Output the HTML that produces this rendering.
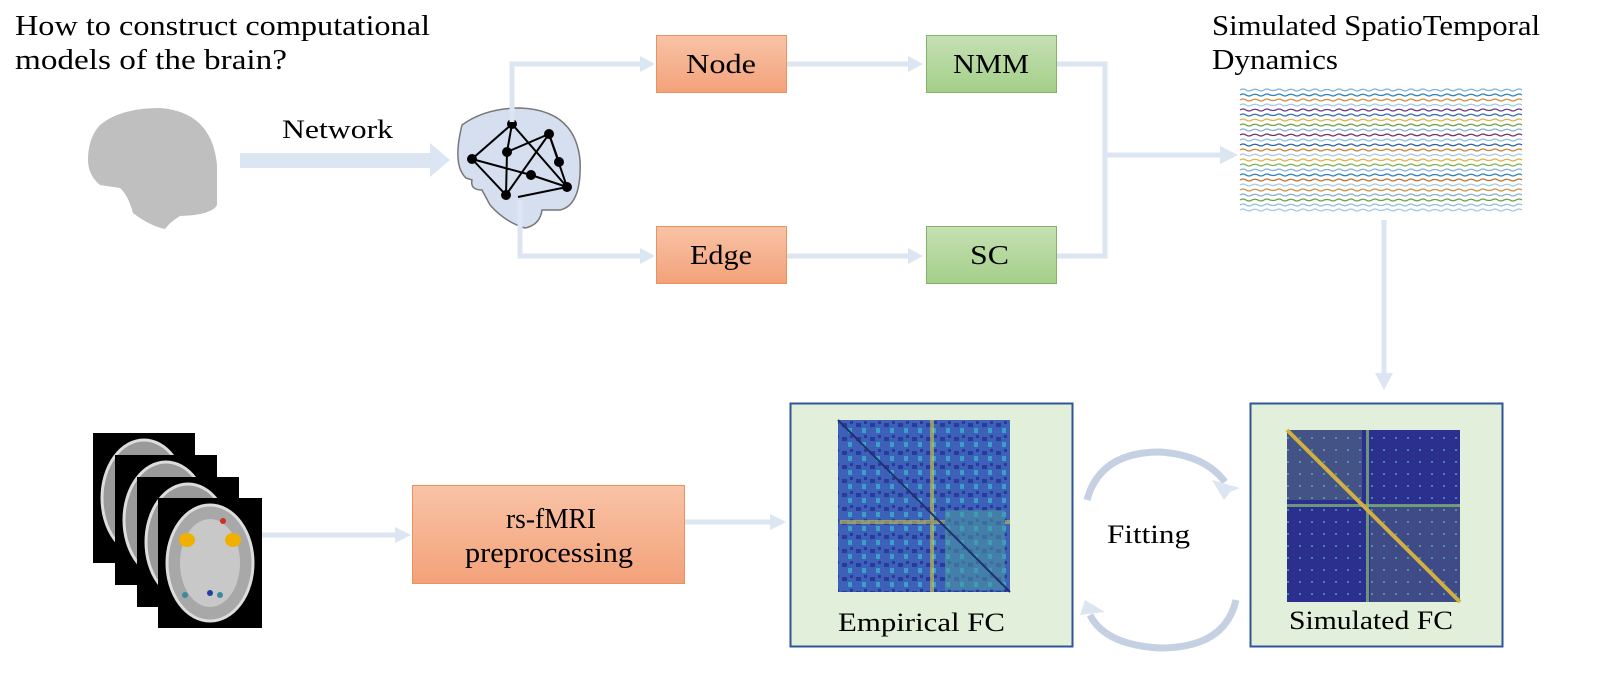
<!DOCTYPE html>
<html><head><meta charset="utf-8"><style>
body{margin:0;width:1600px;height:668px;background:#fff;overflow:hidden;font-family:"Liberation Serif",serif;}
</style></head><body>
<svg width="1600" height="668" viewBox="0 0 1600 668" xmlns="http://www.w3.org/2000/svg" font-family="Liberation Serif, serif">
<defs>
<linearGradient id="og" x1="0" y1="0" x2="0" y2="1"><stop offset="0" stop-color="#f8c3a6"/><stop offset="1" stop-color="#f3a27a"/></linearGradient>
<linearGradient id="gg" x1="0" y1="0" x2="0" y2="1"><stop offset="0" stop-color="#c6e0b4"/><stop offset="1" stop-color="#a3cf88"/></linearGradient>
<path id="wv" d="M0,0 q3,-2 6,0 q3,2 6,0 q3,-1.5 6,0 q3,2 6,0 q3,-2 6,0 q3,1 6,0 q3,-2 6,0 q3,2 6,0 q3,-1.5 6,0 q3,2 6,0 q3,-2 6,0 q3,1.5 6,0 q3,-2 6,0 q3,2 6,0 q3,-1 6,0 q3,2 6,0 q3,-2 6,0 q3,1.5 6,0 q3,-2 6,0 q3,2 6,0 q3,-1.5 6,0 q3,2 6,0 q3,-2 6,0 q3,1 6,0 q3,-2 6,0 q3,2 6,0 q3,-1.5 6,0 q3,2 6,0 q3,-2 6,0 q3,1.5 6,0 q3,-2 6,0 q3,2 6,0 q3,-1 6,0 q3,2 6,0 q3,-2 6,0 q3,1.5 6,0 q3,-2 6,0 q3,2 6,0 q3,-1.5 6,0 q3,2 6,0 q3,-2 6,0 q3,1 6,0 q3,-2 6,0 q3,2 6,0 q3,-1.5 6,0 q3,2 6,0 q3,-2 6,0" fill="none"/>
<pattern id="emp" width="14" height="14" patternUnits="userSpaceOnUse"><rect width="14" height="14" fill="#3d60b8"/><rect x="2" y="3" width="5" height="4" fill="#2a3a9a"/><rect x="8" y="8" width="4" height="5" fill="#3aa0c8"/><rect x="10" y="1" width="3" height="3" fill="#2a3a9a"/></pattern>
<pattern id="sim" width="12" height="12" patternUnits="userSpaceOnUse"><rect width="12" height="12" fill="#2b2f8e"/><rect x="3" y="5" width="2" height="2" fill="#4a80b8"/></pattern>
</defs>

<text x="15" y="35" font-size="28" textLength="415" lengthAdjust="spacingAndGlyphs">How to construct computational</text>
<text x="15" y="69" font-size="28" textLength="272" lengthAdjust="spacingAndGlyphs">models of the brain?</text>
<text x="1212" y="35" font-size="28" textLength="328" lengthAdjust="spacingAndGlyphs">Simulated SpatioTemporal</text>
<text x="1212" y="69" font-size="28" textLength="126" lengthAdjust="spacingAndGlyphs">Dynamics</text>

<!-- gray brain -->
<path d="M100,125 Q120,108 160,108 Q212,112 217,165 L217,205 Q212,215 180,216 Q170,222 165,229 Q150,226 133,213 Q128,195 120,188 L100,185 Q88,175 88,160 Q88,138 100,125Z" fill="#bfbfbf"/>

<!-- network arrow -->
<rect x="240" y="153" width="190" height="15" fill="#dce6f2"/>
<polygon points="430,143 450,160 430,177" fill="#dce6f2"/>
<text x="282" y="138" font-size="26" textLength="111" lengthAdjust="spacingAndGlyphs">Network</text>

<!-- net brain -->
<path d="M462,125 Q485,108 520,108 Q575,110 580,160 Q582,205 560,210 L542,210 Q540,225 525,228 Q505,222 490,205 L482,190 Q470,190 472,180 L466,178 Q452,165 462,125Z" fill="#d6dff0" stroke="#777" stroke-width="1.5"/>
<g stroke="#000" stroke-width="2" fill="none">
<polyline points="512,124 472,159 506,195 507,152 549,134 567,187 531,175 472,159"/>
<line x1="512" y1="124" x2="507" y2="152"/><line x1="512" y1="124" x2="567" y2="187"/><line x1="549" y1="134" x2="506" y2="195"/><line x1="549" y1="134" x2="559" y2="162"/><line x1="518" y1="197" x2="567" y2="187"/>
</g>
<g fill="#000"><circle cx="512" cy="124" r="5"/><circle cx="549" cy="134" r="5"/><circle cx="507" cy="152" r="5"/><circle cx="472" cy="159" r="5"/><circle cx="559" cy="162" r="5"/><circle cx="531" cy="175" r="5"/><circle cx="567" cy="187" r="5"/><circle cx="506" cy="195" r="5"/></g>

<!-- connectors -->
<g stroke="#dce6f2" stroke-width="5" fill="none">
<polyline points="512,122 512,64 640,64"/>
<polyline points="520,200 520,256 640,256"/>
<line x1="786" y1="64" x2="908" y2="64"/>
<line x1="786" y1="256" x2="908" y2="256"/>
<polyline points="1056,64 1105,64 1105,256 1056,256"/>
<line x1="1105" y1="155" x2="1222" y2="155"/>
<line x1="1384" y1="220" x2="1384" y2="375"/>
<line x1="262" y1="535" x2="396" y2="535"/>
<line x1="685" y1="522" x2="770" y2="522"/>
</g>
<g fill="#dce6f2">
<polygon points="640,56 655,64 640,72"/><polygon points="640,248 655,256 640,264"/>
<polygon points="908,56 923,64 908,72"/><polygon points="908,248 923,256 908,264"/>
<polygon points="1220,146 1238,155 1220,164"/>
<polygon points="1375,373 1384,390 1393,373"/>
<polygon points="395,527 411,535 395,543"/>
<polygon points="770,514 786,522 770,530"/>
</g>

<!-- boxes -->
<rect x="656.5" y="35.5" width="130" height="57" fill="url(#og)" stroke="#e8925f"/>
<text x="686" y="73" font-size="27" textLength="70" lengthAdjust="spacingAndGlyphs">Node</text>
<rect x="656.5" y="226.5" width="130" height="57" fill="url(#og)" stroke="#e8925f"/>
<text x="690" y="264" font-size="27" textLength="62" lengthAdjust="spacingAndGlyphs">Edge</text>
<rect x="926.5" y="35.5" width="130" height="57" fill="url(#gg)" stroke="#85b26a"/>
<text x="953" y="73" font-size="27" textLength="76" lengthAdjust="spacingAndGlyphs">NMM</text>
<rect x="926.5" y="226.5" width="130" height="57" fill="url(#gg)" stroke="#85b26a"/>
<text x="970" y="264" font-size="27" textLength="39" lengthAdjust="spacingAndGlyphs">SC</text>
<rect x="412.5" y="485.5" width="272" height="98" fill="url(#og)" stroke="#e8925f"/>
<text x="506" y="528" font-size="28" textLength="90" lengthAdjust="spacingAndGlyphs">rs-fMRI</text>
<text x="465" y="562" font-size="28" textLength="168" lengthAdjust="spacingAndGlyphs">preprocessing</text>

<!-- time series -->
<g stroke-width="1.3">
<use href="#wv" x="1240" y="90" stroke="#7fb0d8"/>
<use href="#wv" x="1240" y="95" stroke="#2a7fc0"/>
<use href="#wv" x="1240" y="100" stroke="#d68a3a"/>
<use href="#wv" x="1240" y="105" stroke="#a0c8e8"/>
<use href="#wv" x="1240" y="110" stroke="#6a3a80"/>
<use href="#wv" x="1240" y="115" stroke="#2a70b8"/>
<use href="#wv" x="1240" y="120" stroke="#e0b040"/>
<use href="#wv" x="1240" y="125" stroke="#6ea040"/>
<use href="#wv" x="1240" y="130" stroke="#7fb0d8"/>
<use href="#wv" x="1240" y="135" stroke="#7a2a60"/>
<use href="#wv" x="1240" y="140" stroke="#88c0e0"/>
<use href="#wv" x="1240" y="145" stroke="#2a60a8"/>
<use href="#wv" x="1240" y="150" stroke="#d08030"/>
<use href="#wv" x="1240" y="155" stroke="#a0c8e8"/>
<use href="#wv" x="1240" y="160" stroke="#e0b040"/>
<use href="#wv" x="1240" y="165" stroke="#80b050"/>
<use href="#wv" x="1240" y="170" stroke="#7fb0d8"/>
<use href="#wv" x="1240" y="175" stroke="#2a7fc0"/>
<use href="#wv" x="1240" y="180" stroke="#c07030"/>
<use href="#wv" x="1240" y="185" stroke="#a0c8e8"/>
<use href="#wv" x="1240" y="190" stroke="#d09040"/>
<use href="#wv" x="1240" y="195" stroke="#7fb0d8"/>
<use href="#wv" x="1240" y="200" stroke="#6ea040"/>
<use href="#wv" x="1240" y="205" stroke="#88c0e0"/>
<use href="#wv" x="1240" y="210" stroke="#a0c8e8"/>
</g>

<!-- fMRI slices -->
<g>
<rect x="93" y="433" width="102" height="130" fill="#000"/><ellipse cx="144" cy="498" rx="42" ry="58" fill="#9a9a9a" stroke="#ddd" stroke-width="3"/>
<rect x="115" y="455" width="102" height="130" fill="#000"/><ellipse cx="166" cy="520" rx="42" ry="58" fill="#9a9a9a" stroke="#ddd" stroke-width="3"/>
<rect x="137" y="477" width="102" height="130" fill="#000"/><ellipse cx="188" cy="542" rx="42" ry="58" fill="#9a9a9a" stroke="#ddd" stroke-width="3"/>
<rect x="158" y="498" width="104" height="130" fill="#000"/><ellipse cx="210" cy="563" rx="43" ry="58" fill="#a8a8a8" stroke="#ddd" stroke-width="3"/>
<ellipse cx="210" cy="563" rx="30" ry="44" fill="#c8c8c8"/>
<ellipse cx="187" cy="540" rx="8" ry="7" fill="#f0b000"/><ellipse cx="233" cy="540" rx="8" ry="7" fill="#f0b000"/>
<circle cx="223" cy="521" r="3" fill="#d03020"/><circle cx="185" cy="595" r="3" fill="#3a8aa0"/><circle cx="210" cy="593" r="3" fill="#2040a0"/><circle cx="220" cy="595" r="3" fill="#3a8aa0"/>
</g>

<!-- FC boxes -->
<rect x="790.5" y="403.5" width="282" height="243" fill="#e2efda" stroke="#2f5597" stroke-width="2"/>
<rect x="838" y="420" width="172" height="172" fill="url(#emp)"/>
<g opacity="0.55"><rect x="840" y="520" width="170" height="4" fill="#d8d040"/><rect x="930" y="420" width="4" height="172" fill="#d8d040"/><rect x="945" y="510" width="60" height="80" fill="#4a9aa0"/></g>
<line x1="838" y1="420" x2="1010" y2="592" stroke="#203070" stroke-width="2"/>
<text x="838" y="631" font-size="26" textLength="167" lengthAdjust="spacingAndGlyphs">Empirical FC</text>

<rect x="1250.5" y="403.5" width="252" height="243" fill="#e2efda" stroke="#2f5597" stroke-width="2"/>
<rect x="1287" y="430" width="173" height="172" fill="url(#sim)"/>
<g fill="#8ac070"><rect x="1287" y="430" width="75" height="70" opacity="0.25"/><rect x="1287" y="504" width="173" height="3" opacity="0.7"/><rect x="1366" y="430" width="3" height="172" opacity="0.7"/><rect x="1370" y="505" width="90" height="97" opacity="0.2"/></g>
<line x1="1287" y1="430" x2="1460" y2="602" stroke="#d0b040" stroke-width="4"/>
<text x="1289" y="629" font-size="26" textLength="164" lengthAdjust="spacingAndGlyphs">Simulated FC</text>

<!-- fitting arcs -->
<path d="M1087,500 Q1100,452 1160,452 Q1205,455 1225,482" fill="none" stroke="#c5d1e3" stroke-width="7"/>
<polygon points="1212,480 1240,488 1230,492 1224,500" fill="#dce6f2"/>
<path d="M1236,600 Q1225,648 1160,648 Q1105,645 1090,615" fill="none" stroke="#c5d1e3" stroke-width="7"/>
<polygon points="1085,600 1105,612 1080,615" fill="#dce6f2"/>
<text x="1107" y="543" font-size="26" textLength="83" lengthAdjust="spacingAndGlyphs">Fitting</text>
</svg>
</body></html>
